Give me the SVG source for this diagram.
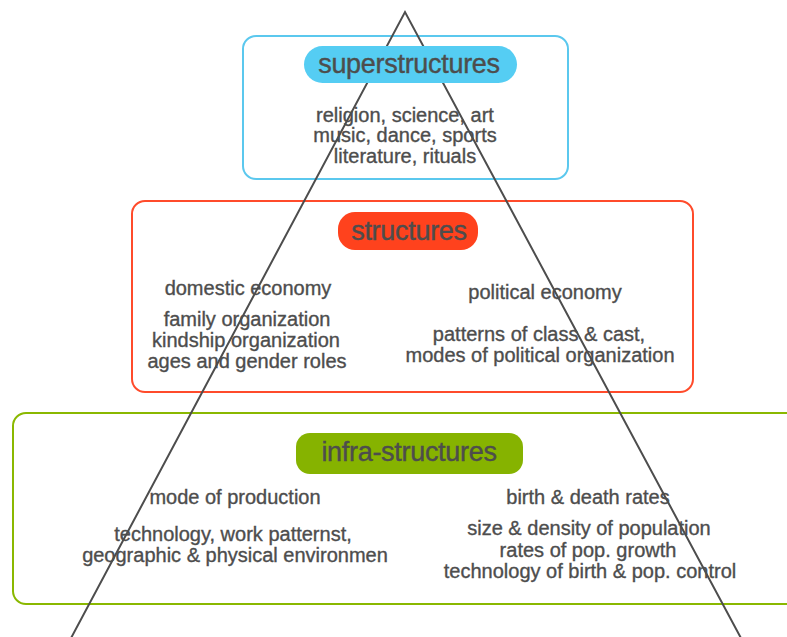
<svg xmlns="http://www.w3.org/2000/svg" width="787" height="637" viewBox="0 0 787 637">
<style>
.box{fill:none;stroke-width:2}
.t{font-family:"Liberation Sans",Arial,sans-serif;fill:#4d4d4d;stroke:#4d4d4d;stroke-width:0.35;text-anchor:middle;font-size:20px;letter-spacing:0px}
.h{font-family:"Liberation Sans",Arial,sans-serif;fill:#4d4d4d;stroke:#4d4d4d;stroke-width:0.4;text-anchor:middle;font-size:27px;letter-spacing:-0.3px}
.ln{stroke:#4d4d4d;stroke-width:2;fill:none}
</style>
<rect width="787" height="637" fill="#fff"/>
<g id="frames">
<rect class="box" x="243" y="36" width="325" height="143" rx="13" stroke="#5bc8ee"/>
<rect class="box" x="132" y="201" width="561" height="191" rx="13" stroke="#ff4b2b"/>
<rect class="box" x="13" y="413" width="790" height="191" rx="13" stroke="#8ab800"/>
</g>
<g id="connectors">
<polyline class="ln" points="70,640 405,12 742,640"/>
</g>
<g id="superstructures">
<rect x="304" y="46" width="213" height="37" rx="18.5" fill="#55cdf3"/>
<text class="h" x="409" y="73">superstructures</text>
<text class="t" x="405" y="122">religion, science, art</text>
<text class="t" x="405" y="142">music, dance, sports</text>
<text class="t" x="405" y="163">literature, rituals</text>
</g>
<g id="structures">
<rect x="338" y="212" width="140" height="38" rx="17" fill="#ff421d"/>
<text class="h" x="409" y="240">structures</text>
<text class="t" x="248" y="295">domestic economy</text>
<text class="t" x="247" y="326">family organization</text>
<text class="t" x="246" y="347">kindship organization</text>
<text class="t" x="247" y="368">ages and gender roles</text>
<text class="t" x="545" y="299">political economy</text>
<text class="t" x="539" y="341">patterns of class &amp; cast,</text>
<text class="t" x="540" y="362">modes of political organization</text>
</g>
<g id="infra-structures">
<rect x="296" y="433" width="227" height="41" rx="14" fill="#86b300"/>
<text class="h" x="409" y="461">infra-structures</text>
<text class="t" x="235" y="504">mode of production</text>
<text class="t" x="233" y="541">technology, work patternst,</text>
<text class="t" x="235" y="562">geographic &amp; physical environmen</text>
<text class="t" x="588" y="504">birth &amp; death rates</text>
<text class="t" x="589" y="535">size &amp; density of population</text>
<text class="t" x="588" y="557">rates of pop. growth</text>
<text class="t" x="590" y="578">technology of birth &amp; pop. control</text>
</g>
</svg>
